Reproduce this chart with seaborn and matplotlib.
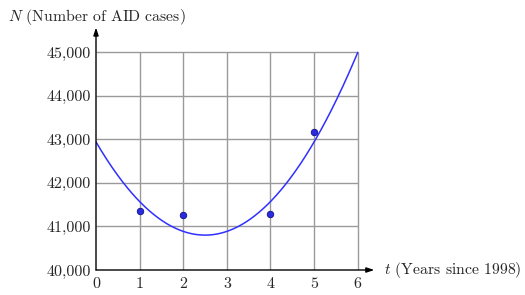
import numpy as np
import pandas as pd
import matplotlib
matplotlib.use("Agg")
import matplotlib.pyplot as plt
import seaborn as sns

# Data
years = [1, 2, 4, 5]
cases = [41350, 41260, 41290, 43160]
# Quadratic model drawn on the chart: N = a (t - h)^2 + k
model_a = 342.0
model_h = 2.5
model_k = 40800.0
x_ticks = [0, 1, 2, 3, 4, 5, 6]
y_ticks = [40000, 41000, 42000, 43000, 44000, 45000]
y_labels = ["40,000", "41,000", "42,000", "43,000", "44,000", "45,000"]

sns.set_style("white")
plt.rcParams["font.family"] = ["cmr10", "DejaVu Serif"]
plt.rcParams["mathtext.fontset"] = "cm"

fig = plt.figure(figsize=(5.25, 2.95), dpi=100)
ax = fig.add_axes([96 / 525, 1 - 270 / 295, 277 / 525, 242 / 295])
ax.set_xlim(0, 6.35)
ax.set_ylim(40000, 45550)

grid_c = "#9a9a9a"
ax.vlines(x_ticks[1:], y_ticks[0], y_ticks[-1], color=grid_c, lw=1.0, zorder=1)
ax.hlines(y_ticks[1:], x_ticks[0], x_ticks[-1], color=grid_c, lw=1.0, zorder=1)

t = np.linspace(0, 6, 300)
curve = pd.DataFrame({"t": t, "N": model_a * (t - model_h) ** 2 + model_k})
sns.lineplot(data=curve, x="t", y="N", color="#3030ff", lw=1.1, ax=ax, zorder=3)

pts = pd.DataFrame({"t": years, "N": cases})
sns.scatterplot(data=pts, x="t", y="N", color="#2a2ae0", edgecolor="#10108a",
                linewidth=0.6, s=22, ax=ax, zorder=4)

for s in ax.spines.values():
    s.set_visible(False)

# axes with arrows
ax.annotate("", xy=(6.38, 40000), xytext=(0, 40000),
            arrowprops=dict(arrowstyle="-|>,head_length=0.45,head_width=0.15", color="black", lw=1.0,
                            shrinkA=0, shrinkB=0), annotation_clip=False)
ax.annotate("", xy=(0, 45560), xytext=(0, 40000),
            arrowprops=dict(arrowstyle="-|>,head_length=0.45,head_width=0.15", color="black", lw=1.0,
                            shrinkA=0, shrinkB=0), annotation_clip=False)

ax.set_xticks(x_ticks)
ax.set_xticklabels([str(v) for v in x_ticks])
ax.set_yticks(y_ticks)
ax.set_yticklabels(y_labels)
ax.tick_params(axis="both", direction="inout", length=5, width=1.0, color="black",
               labelsize=11.5, pad=1)
ax.tick_params(axis="x", pad=3)
ax.set_xlabel("")
ax.set_ylabel("")

fig.text(8 / 525, 1 - 17 / 295, r"$N$ (Number of AID cases)", fontsize=11.3, va="center", ha="left")
fig.text(384 / 525, 1 - 270 / 295, r"$t$ (Years since 1998)", fontsize=11.3, va="center", ha="left")

fig.savefig("out.png", dpi=100)
